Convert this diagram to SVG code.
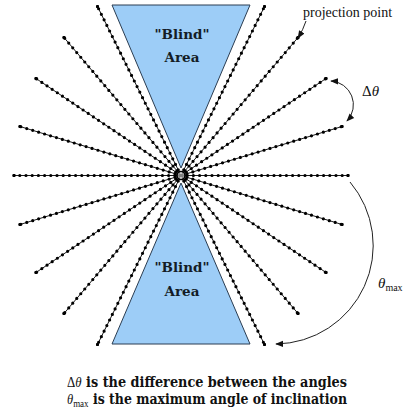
<svg xmlns="http://www.w3.org/2000/svg" width="408" height="417" viewBox="0 0 408 417">
<defs>
<style>
.tri{fill:#9dcdf7;stroke:#2b3d52;stroke-width:1}
.lbl{font-family:"DejaVu Serif","Liberation Serif",serif;font-weight:bold;font-size:13.5px;fill:#141c26;text-anchor:middle}
.ray{fill:none;stroke:#000;stroke-width:0.9}
.dots{fill:none;stroke:#000;stroke-width:3.2;stroke-linecap:round;stroke-dasharray:0 6.2}
.arr{fill:none;stroke:#222;stroke-width:1}
.t{font-family:"Liberation Serif","DejaVu Serif",serif;fill:#111}
.b{font-family:"DejaVu Serif","Liberation Serif",serif;font-weight:bold}
</style>
<marker id="ah" viewBox="0 0 10 10" refX="9" refY="5" markerWidth="8" markerHeight="8" markerUnits="userSpaceOnUse" orient="auto-start-reverse">
<path d="M0,1 L10,5 L0,9 Z" fill="#111"/>
</marker>
<marker id="dot" viewBox="-2 -2 4 4" refX="0" refY="0" markerWidth="3.4" markerHeight="3.4" markerUnits="userSpaceOnUse">
<circle r="2" fill="#000"/>
</marker>
</defs>
<rect width="408" height="417" fill="#fff"/>
<g id="blind-top">
<polygon class="tri" points="112,5 250,5 181,168"/>
<text class="lbl" x="182" y="39">"Blind"</text>
<text class="lbl" x="182" y="62">Area</text>
</g>
<g id="blind-bottom">
<polygon class="tri" points="181,183 250,344 112,344"/>
<text class="lbl" x="182" y="272">"Blind"</text>
<text class="lbl" x="182" y="296">Area</text>
</g>
<g id="rays">
<g class="ray">
<path d="M181,175.5 L348,175.5 M181,175.5 L14,175.5 M181,175.5 L342,126.5 M181,175.5 L20,126.5 M181,175.5 L342,224.5 M181,175.5 L20,224.5 M181,175.5 L326,78.5 M181,175.5 L36,78.5 M181,175.5 L326,272.5 M181,175.5 L36,272.5 M181,175.5 L298,37.5 M181,175.5 L64,37.5 M181,175.5 L298,313.5 M181,175.5 L64,313.5 M181,175.5 L264.5,6.5 M181,175.5 L97.5,6.5 M181,175.5 L264.5,344.5 M181,175.5 L97.5,344.5"/>
</g>
<g class="dots">
<path d="M181,175.5 L348,175.5" marker-end="url(#dot)"/>
<path d="M181,175.5 L14,175.5" marker-end="url(#dot)"/>
<path d="M181,175.5 L342,126.5" marker-end="url(#dot)"/>
<path d="M181,175.5 L20,126.5" marker-end="url(#dot)"/>
<path d="M181,175.5 L342,224.5" marker-end="url(#dot)"/>
<path d="M181,175.5 L20,224.5" marker-end="url(#dot)"/>
<path d="M181,175.5 L326,78.5" marker-end="url(#dot)"/>
<path d="M181,175.5 L36,78.5" marker-end="url(#dot)"/>
<path d="M181,175.5 L326,272.5" marker-end="url(#dot)"/>
<path d="M181,175.5 L36,272.5" marker-end="url(#dot)"/>
<path d="M181,175.5 L298,37.5" marker-end="url(#dot)"/>
<path d="M181,175.5 L64,37.5" marker-end="url(#dot)"/>
<path d="M181,175.5 L298,313.5" marker-end="url(#dot)"/>
<path d="M181,175.5 L64,313.5" marker-end="url(#dot)"/>
<path d="M181,175.5 L264.5,6.5" marker-end="url(#dot)"/>
<path d="M181,175.5 L97.5,6.5" marker-end="url(#dot)"/>
<path d="M181,175.5 L264.5,344.5" marker-end="url(#dot)"/>
<path d="M181,175.5 L97.5,344.5" marker-end="url(#dot)"/>
</g>
<circle cx="181" cy="175.5" r="4" fill="#fff" fill-opacity="0.5" stroke="#000" stroke-width="1.6"/>
</g>
<g id="connectors">
<path class="arr" d="M306,21 Q303,30 298,38" marker-end="url(#ah)"/>
<path class="arr" d="M331,81 A23.8,23.8 0 0 1 347,121" marker-start="url(#ah)" marker-end="url(#ah)"/>
<path class="arr" d="M350,182 A98.5,98.5 0 0 1 276,344" marker-end="url(#ah)"/>
</g>
<g id="labels">
<text class="t" x="303" y="17" font-size="14">projection point</text>
<text class="t" x="362" y="96" font-size="15">Δ<tspan font-style="italic">θ</tspan></text>
<text class="t" x="378" y="288" font-size="15"><tspan font-style="italic">θ</tspan><tspan font-size="10" dy="3">max</tspan></text>
<text class="t" x="67" y="387" font-size="14" textLength="280" lengthAdjust="spacingAndGlyphs"><tspan>Δ</tspan><tspan font-style="italic">θ</tspan><tspan class="b"> is the difference between the angles</tspan></text>
<text class="t" x="67" y="404" font-size="14" textLength="280" lengthAdjust="spacingAndGlyphs"><tspan font-style="italic">θ</tspan><tspan font-size="10" dy="3">max</tspan><tspan class="b" dy="-3"> is the maximum angle of inclination</tspan></text>
</g>
</svg>
